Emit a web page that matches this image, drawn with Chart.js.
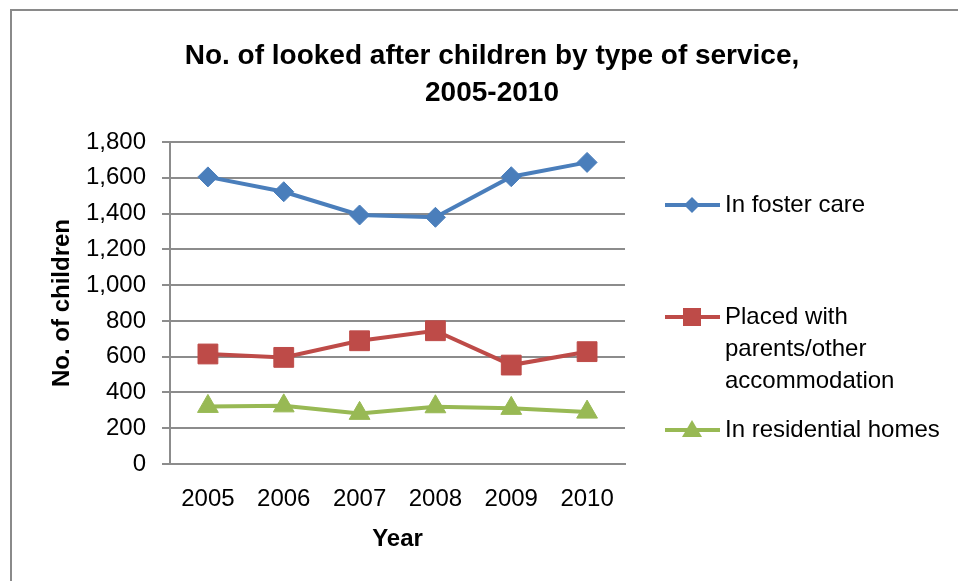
<!DOCTYPE html>
<html>
<head>
<meta charset="utf-8">
<script src="https://cdn.jsdelivr.net/npm/chart.js@4/dist/chart.umd.min.js"></script>
<style>
    body { margin: 0; background: #fff; }
    .frame {
        position: absolute; left: 10px; top: 9px;
        width: 1000px; height: 1000px;
        border: 2px solid #8a8a8a;
    }
    #lookedAfterChart { position: absolute; left: 0; top: 0; }
</style>
</head>
<body>
<div class="frame"></div>
<canvas id="lookedAfterChart" width="958" height="581"></canvas>
<script>
// Dữ liệu
const years = ['2005', '2006', '2007', '2008', '2009', '2010'];
const fosterCare = [1605, 1522, 1392, 1379, 1606, 1686];
const placedWithParents = [615, 596, 689, 745, 553, 628];
const residentialHomes = [322, 325, 283, 320, 311, 290];
const yTickValues = [0, 200, 400, 600, 800, 1000, 1200, 1400, 1600, 1800];

const seriesNames = ['In foster care', 'Placed with parents/other accommodation', 'In residential homes'];
const legendLines = [['In foster care'], ['Placed with', 'parents/other', 'accommodation'], ['In residential homes']];
const titleLines = ['No. of looked after children by type of service,', '2005-2010'];

const FONT = '"Liberation Sans", Arial, sans-serif';
const GRID = '#8c8c8c';

// Tiêu đề căn giữa theo toàn bộ khung (không theo vùng vẽ)
const centeredTitle = {
    id: 'centeredTitle',
    afterDraw(chart) {
        const ctx = chart.ctx;
        ctx.save();
        ctx.fillStyle = '#000';
        ctx.font = 'bold 28px ' + FONT;
        ctx.textAlign = 'center';
        ctx.textBaseline = 'middle';
        titleLines.forEach((txt, k) => ctx.fillText(txt, 492, 56 + k * 37));
        ctx.restore();
    }
};

// Vẽ chú thích kiểu Excel (đường + điểm đánh dấu) ở bên phải
const excelLegend = {
    id: 'excelLegend',
    afterDraw(chart) {
        const ctx = chart.ctx;
        const rows = [205, 317, 430];
        const lineH = 32;
        ctx.save();
        chart.data.datasets.forEach((ds, i) => {
            const y = rows[i];
            ctx.strokeStyle = ds.borderColor;
            ctx.lineWidth = 4;
            ctx.beginPath();
            ctx.moveTo(665, y);
            ctx.lineTo(720, y);
            ctx.stroke();

            ctx.fillStyle = ds.borderColor;
            ctx.beginPath();
            const cx = 692;
            if (ds.pointStyle === 'rectRot') {
                ctx.moveTo(cx, y - 8); ctx.lineTo(cx + 8, y); ctx.lineTo(cx, y + 8); ctx.lineTo(cx - 8, y);
            } else if (ds.pointStyle === 'rect') {
                ctx.rect(cx - 9, y - 9, 18, 18);
            } else {
                ctx.moveTo(cx, y - 10); ctx.lineTo(cx + 10, y + 7); ctx.lineTo(cx - 10, y + 7);
            }
            ctx.closePath();
            ctx.fill();

            ctx.fillStyle = '#000';
            ctx.font = '24px ' + FONT;
            ctx.textAlign = 'left';
            ctx.textBaseline = 'middle';
            legendLines[i].forEach((txt, k) => {
                ctx.fillText(txt, 725, y + k * lineH);
            });
        });
        ctx.restore();
    }
};

const ctx = document.getElementById('lookedAfterChart').getContext('2d');
const chart = new Chart(ctx, {
    type: 'line',
    data: {
        labels: years,
        datasets: [{
            label: seriesNames[0],
            data: fosterCare,
            borderColor: '#4a7ebb',
            backgroundColor: '#4a7ebb',
            pointStyle: 'rectRot',
            pointRadius: 10
        }, {
            label: seriesNames[1],
            data: placedWithParents,
            borderColor: '#be4b48',
            backgroundColor: '#be4b48',
            pointStyle: 'rect',
            pointRadius: 14
        }, {
            label: seriesNames[2],
            data: residentialHomes,
            borderColor: '#98b954',
            backgroundColor: '#98b954',
            pointStyle: 'triangle',
            pointRadius: 12
        }]
    },
    options: {
        responsive: false,
        animation: false,
        devicePixelRatio: 1,
        elements: {
            line: { borderWidth: 4, tension: 0 },
            point: { borderWidth: 1 }
        },
        layout: { padding: { left: 0, right: 333, top: 142, bottom: 0 } },
        plugins: {
            legend: { display: false },
            tooltip: { enabled: false },
            title: { display: false }
        },
        scales: {
            x: {
                offset: true,
                grid: { display: false, drawTicks: false, tickLength: 0 },
                border: { display: true, color: GRID, width: 2 },
                ticks: { color: '#000', font: { family: FONT, size: 24 }, padding: 21 },
                title: {
                    display: true,
                    text: 'Year',
                    color: '#000',
                    font: { family: FONT, size: 24, weight: 'bold' },
                    padding: { top: 0, bottom: 27.6 }
                },
                afterFit: scale => { scale.height = 117; }
            },
            y: {
                min: 0,
                max: 1800,
                afterBuildTicks: scale => { scale.ticks = yTickValues.map(v => ({ value: v })); },
                grid: { color: GRID, lineWidth: 2, tickLength: 8 },
                border: { display: true, color: GRID, width: 2 },
                ticks: {
                    color: '#000',
                    font: { family: FONT, size: 24 },
                    padding: 16,
                    callback: v => v.toLocaleString('en-US')
                },
                title: {
                    display: true,
                    text: 'No. of children',
                    color: '#000',
                    font: { family: FONT, size: 24, weight: 'bold' },
                    padding: { top: 47.6, bottom: 0 }
                },
                afterFit: scale => { scale.width = 170; }
            }
        }
    },
    plugins: [centeredTitle, excelLegend]
});
</script>
</body>
</html>
